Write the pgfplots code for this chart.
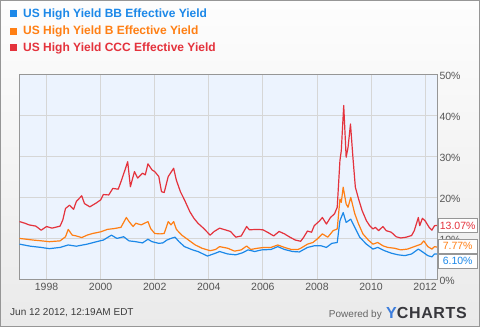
\documentclass[border=0pt]{standalone}
\usepackage{fontspec}
\setmainfont{Liberation Sans}
\newfontfamily\ych[LetterSpace=4]{Liberation Sans}
\usepackage{pgfplots}
\pgfplotsset{compat=1.18}
\definecolor{bbc}{RGB}{28,136,232}
\definecolor{bc}{RGB}{255,127,20}
\definecolor{cccc}{RGB}{228,50,60}
\definecolor{gridc}{RGB}{214,214,214}
\definecolor{plotbg}{RGB}{236,243,254}
\definecolor{tickc}{RGB}{85,85,85}
\definecolor{framec}{RGB}{150,150,150}
\definecolor{ycblue}{RGB}{60,125,220}

\pgfplotstableread{
x y
1997.0 14.0
1997.2 13.6
1997.35 13.2
1997.6 12.9
1997.8 11.9
1998.0 12.8
1998.2 12.4
1998.5 12.9
1998.6 14.4
1998.7 17.2
1998.85 18.0
1999.0 17.0
1999.1 18.9
1999.3 20.3
1999.4 18.4
1999.6 17.6
1999.85 18.6
2000.0 19.3
2000.1 20.6
2000.3 20.5
2000.45 22.1
2000.65 21.9
2000.75 23.7
2000.9 26.6
2001.0 28.6
2001.1 22.5
2001.25 26.2
2001.37 24.6
2001.55 25.8
2001.65 25.4
2001.75 28.1
2001.9 26.6
2002.0 26.2
2002.15 25.0
2002.25 21.3
2002.35 21.1
2002.5 25.0
2002.7 27.0
2002.8 24.1
2002.95 21.3
2003.1 19.3
2003.3 16.4
2003.45 14.8
2003.6 13.6
2003.8 12.4
2004.05 10.7
2004.2 11.6
2004.4 12.4
2004.6 12.0
2004.8 11.6
2005.0 10.2
2005.2 10.5
2005.4 12.8
2005.5 12.0
2005.8 12.1
2006.0 12.0
2006.2 11.3
2006.4 10.5
2006.6 11.6
2006.8 11.0
2007.0 10.2
2007.2 9.5
2007.4 9.2
2007.5 10.1
2007.65 11.7
2007.8 11.4
2007.9 13.0
2008.1 14.2
2008.2 15.0
2008.35 13.4
2008.5 15.0
2008.65 15.9
2008.75 17.5
2008.85 28.9
2008.9 31.3
2008.99 42.3
2009.08 29.7
2009.15 32.1
2009.24 37.8
2009.33 29.7
2009.42 22.4
2009.54 19.5
2009.67 16.7
2009.83 14.2
2009.95 13.0
2010.07 12.2
2010.16 12.6
2010.28 11.8
2010.44 12.8
2010.56 11.8
2010.75 11.4
2010.93 10.3
2011.1 10.0
2011.3 10.2
2011.5 10.6
2011.6 11.8
2011.75 15.0
2011.8 13.0
2011.9 14.8
2012.0 14.2
2012.15 12.6
2012.25 11.9
2012.35 13.0
2012.44 13.07
}\ccc

\pgfplotstableread{
x y
1997.0 9.9
1997.25 9.7
1997.5 9.5
1997.75 9.35
1998.1 9.1
1998.5 9.3
1998.7 10.3
1998.8 12.1
1998.95 10.7
1999.1 10.5
1999.3 10.1
1999.5 10.7
1999.7 11.1
2000.0 11.5
2000.25 12.1
2000.5 12.3
2000.75 12.6
2000.95 15.0
2001.05 14.0
2001.2 12.8
2001.3 13.6
2001.5 13.2
2001.75 14.0
2001.85 12.3
2002.0 11.1
2002.2 11.0
2002.35 11.1
2002.5 14.0
2002.6 13.2
2002.7 14.0
2002.8 12.1
2003.0 10.7
2003.25 9.5
2003.5 8.3
2003.75 7.5
2004.05 6.9
2004.25 7.2
2004.4 7.9
2004.7 7.5
2004.95 6.8
2005.2 7.1
2005.4 8.05
2005.55 7.2
2005.8 7.5
2006.05 7.7
2006.3 7.7
2006.55 8.3
2006.8 7.7
2007.05 7.2
2007.3 7.2
2007.4 7.5
2007.65 8.5
2007.85 8.9
2008.0 9.7
2008.2 11.0
2008.4 10.2
2008.6 11.8
2008.75 12.2
2008.85 19.5
2008.9 18.7
2008.97 22.4
2009.08 18.3
2009.15 17.5
2009.25 19.9
2009.4 15.9
2009.54 13.4
2009.7 11.0
2009.9 9.5
2010.07 8.5
2010.25 8.9
2010.44 8.1
2010.62 7.7
2010.87 7.5
2011.1 7.1
2011.35 7.3
2011.6 7.9
2011.85 8.5
2011.95 9.3
2012.1 7.9
2012.25 7.3
2012.35 7.9
2012.44 7.77
}\bdata

\pgfplotstableread{
x y
1997.0 8.5
1997.4 8.0
1997.8 7.7
1998.1 7.4
1998.5 7.7
1998.8 8.3
1999.1 8.0
1999.5 8.5
1999.85 9.1
2000.1 9.5
2000.4 10.7
2000.6 9.9
2000.85 10.3
2001.05 9.3
2001.3 9.1
2001.55 8.8
2001.75 9.7
2001.9 9.1
2002.15 8.7
2002.3 8.8
2002.45 9.5
2002.6 9.9
2002.75 10.2
2002.9 9.1
2003.1 7.9
2003.4 7.1
2003.6 6.7
2003.95 5.6
2004.25 6.3
2004.4 6.7
2004.7 6.1
2005.0 5.9
2005.25 6.4
2005.45 7.1
2005.7 6.7
2005.95 7.1
2006.3 7.2
2006.55 7.9
2006.8 7.2
2007.1 6.7
2007.35 6.6
2007.65 7.7
2007.9 8.1
2008.15 8.1
2008.35 7.7
2008.55 8.7
2008.75 8.9
2008.85 14.2
2008.97 16.2
2009.08 13.8
2009.25 14.6
2009.4 12.6
2009.58 10.2
2009.83 8.5
2010.07 7.3
2010.25 7.7
2010.5 6.9
2010.75 6.3
2011.0 5.9
2011.25 5.7
2011.5 6.1
2011.75 7.3
2011.93 6.5
2012.1 5.7
2012.25 5.4
2012.35 6.1
2012.44 6.10
}\bbdata

\begin{document}
\begin{tikzpicture}[x=1pt,y=1pt]
\shade[top color={rgb,255:red,253;green,253;blue,253}, bottom color={rgb,255:red,234;green,234;blue,234}] (0,0) rectangle (480,327);
\draw[framec, line width=1pt] (0.5,0.5) rectangle (479.5,326.5);

% legend
\fill[bbc] (10,309.5) rectangle ++(7,7);
\node[anchor=west, inner sep=0pt, text=bbc, font=\fontsize{12}{14}\selectfont\bfseries] at (23,313) {US High Yield BB Effective Yield};
\fill[bc] (10,292) rectangle ++(7,7);
\node[anchor=west, inner sep=0pt, text=bc, font=\fontsize{12}{14}\selectfont\bfseries] at (23,295.5) {US High Yield B Effective Yield};
\fill[cccc] (10,275.5) rectangle ++(7,7);
\node[anchor=west, inner sep=0pt, text=cccc, font=\fontsize{12}{14}\selectfont\bfseries] at (23,279) {US High Yield CCC Effective Yield};

\begin{axis}[
  at={(19pt,48pt)}, anchor=south west,
  scale only axis, width=418pt, height=205pt,
  xmin=1996.98, xmax=2012.44,
  ymin=0, ymax=50,
  axis background/.style={fill=plotbg},
  axis line style={draw=framec, line width=0.9pt},
  grid=major,
  major grid style={draw=gridc, line width=0.8pt},
  major tick length=0pt,
  xtick={1998,2000,...,2012},
  ytick={0,10,...,50},
  yticklabel pos=right,
  yticklabel={\pgfmathprintnumber{\tick}\%},
  /pgf/number format/assume math mode=true,
  xticklabel style={/pgf/number format/1000 sep={}, font=\fontsize{10.5}{12}\selectfont, text=tickc, yshift=-1pt},
  yticklabel style={font=\fontsize{10.5}{12}\selectfont, text=tickc, xshift=-1pt, yshift=-2pt},
]
\addplot[cccc, line width=1.2pt, line join=round] table[x=x,y=y] {\ccc};
\addplot[bc, line width=1.2pt, line join=round] table[x=x,y=y] {\bdata};
\addplot[bbc, line width=1.2pt, line join=round] table[x=x,y=y] {\bbdata};
\coordinate (rl) at (axis cs:2012.44,13.07);
\coordinate (ol) at (axis cs:2012.44,8.0);
\coordinate (bl) at (axis cs:2012.44,4.35);
\end{axis}

\tikzset{vl/.style={anchor=west, draw=framec, fill=white, inner xsep=1.5pt, inner ysep=1.5pt, minimum width=39pt, minimum height=14pt, font=\fontsize{10.5}{12}\selectfont, xshift=1pt}}
\node[vl, text=cccc] at (rl) {13.07\%};
\node[vl, text=bc] at (ol) {7.77\%};
\node[vl, text=bbc] at (bl) {6.10\%};

% footer
\node[anchor=west, inner sep=0pt, text={rgb,255:red,60;green,60;blue,60}, font=\fontsize{10}{12}\selectfont] at (10,14) {Jun 12 2012, 12:19AM EDT};
\node[anchor=east, inner sep=0pt, text={rgb,255:red,100;green,100;blue,100}, font=\fontsize{10}{12}\selectfont] at (382,12) {Powered by};
\node[anchor=west, inner sep=0pt, text={rgb,255:red,55;green,55;blue,60}, font=\fontsize{16}{18}\selectfont\ych\bfseries] at (386,14) {{\color{ycblue}Y}CHARTS};
\end{tikzpicture}
\end{document}
